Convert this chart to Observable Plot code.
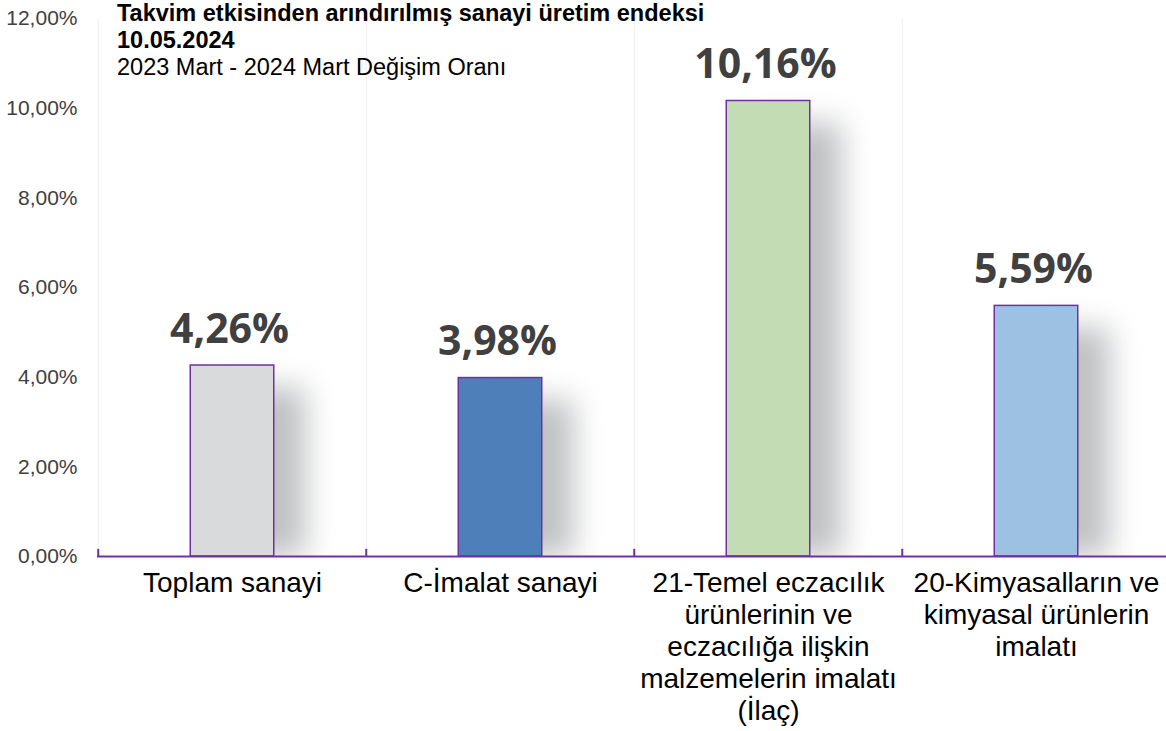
<!DOCTYPE html>
<html><head><meta charset="utf-8">
<script src="https://cdn.jsdelivr.net/npm/d3@7"></script>
<script src="https://cdn.jsdelivr.net/npm/@observablehq/plot@0.6"></script>
<style>
body{margin:0;background:#fff}
#wrap{position:relative;width:1166px;height:731px;overflow:hidden}
#chart{position:absolute;left:0;top:0}
#title{position:absolute;left:117px;top:0px;font-family:"Liberation Sans",Arial,sans-serif;font-size:23.5px;line-height:27px;color:#000;z-index:2;white-space:nowrap}
</style></head><body>
<div id="wrap"><div id="chart"></div>
<div id="title"><b>Takvim etkisinden arındırılmış sanayi üretim endeksi</b><br><b>10.05.2024</b><br>2023 Mart - 2024 Mart Değişim Oranı</div>
</div>
<script>
const categories = ["Toplam sanayi", "C-İmalat sanayi", "21-Temel eczacılık", "20-Kimyasallar"];
const values = [4.26, 3.98, 10.16, 5.59];
const xLabels = [
  "Toplam sanayi",
  "C-İmalat sanayi",
  "21-Temel eczacılık\nürünlerinin ve\neczacılığa ilişkin\nmalzemelerin imalatı\n(İlaç)",
  "20-Kimyasalların ve\nkimyasal ürünlerin\nimalatı"
];
const barColors = ["#d9dadc", "#4f7fb8", "#c4dcb3", "#9dc1e3"];
const yTicks = [0, 2, 4, 6, 8, 10, 12];

const data = categories.map((c, i) => ({cat: c, value: values[i], label: xLabels[i], color: barColors[i]}));
const fmt = v => v.toFixed(2).replace(".", ",") + "%";

const W = 1166, H = 731, left = 97, right = 1171;
const bw = (right - left) / categories.length;
const barW = 84;
const inset = (bw - barW) / 2;
const purple = "#7030a0";

const chart = Plot.plot({
  width: W, height: H,
  marginLeft: left, marginRight: 0, marginTop: 18, marginBottom: 175,
  style: {fontFamily: "'Liberation Sans', Arial, sans-serif", background: "white", overflow: "visible"},
  x: {domain: categories, range: [left, right], padding: 0, axis: null},
  y: {domain: [0, 12], ticks: yTicks, axis: null},
  marks: [
    Plot.ruleX(categories, {x: d => d, dx: -bw / 2, y1: 0, y2: 12, stroke: "#efefef", strokeWidth: 1}),
    Plot.barY(data, {x: "cat", y: "value", fill: "#c0c1c3", insetLeft: inset, insetRight: inset, insetTop: 22, dx: 32, clip: true, className: "shadowbar"}),
    Plot.barY(data, {x: "cat", y: "value", fill: "color", stroke: purple, strokeWidth: 1.5, insetLeft: inset, insetRight: inset}),
    Plot.ruleY([0], {stroke: purple, strokeWidth: 2}),
    Plot.ruleX(categories, {x: d => d, dx: -bw / 2, y1: 0, y2: 0.16, stroke: purple, strokeWidth: 2}),
    Plot.axisY({ticks: yTicks, tickSize: 0, tickPadding: 20, tickFormat: fmt, fontSize: 21, fill: "#404040", anchor: "left", label: null}),
    Plot.text(data, {x: "cat", y: "value", text: d => fmt(d.value), lineAnchor: "bottom", dy: -23, dx: -3, fontSize: 41, fontWeight: 700, fontFamily: "'Open Sans', sans-serif", fill: "#404040"}),
    Plot.text(data, {x: "cat", y: 0, text: "label", lineAnchor: "top", dy: 13, fontSize: 28, lineHeight: 1.143, fill: "#000"})
  ]
});
document.getElementById("chart").appendChild(chart);
chart.querySelectorAll(".shadowbar rect, g.shadowbar rect").forEach(r => { r.style.filter = "blur(15px)"; });
</script>
</body></html>
